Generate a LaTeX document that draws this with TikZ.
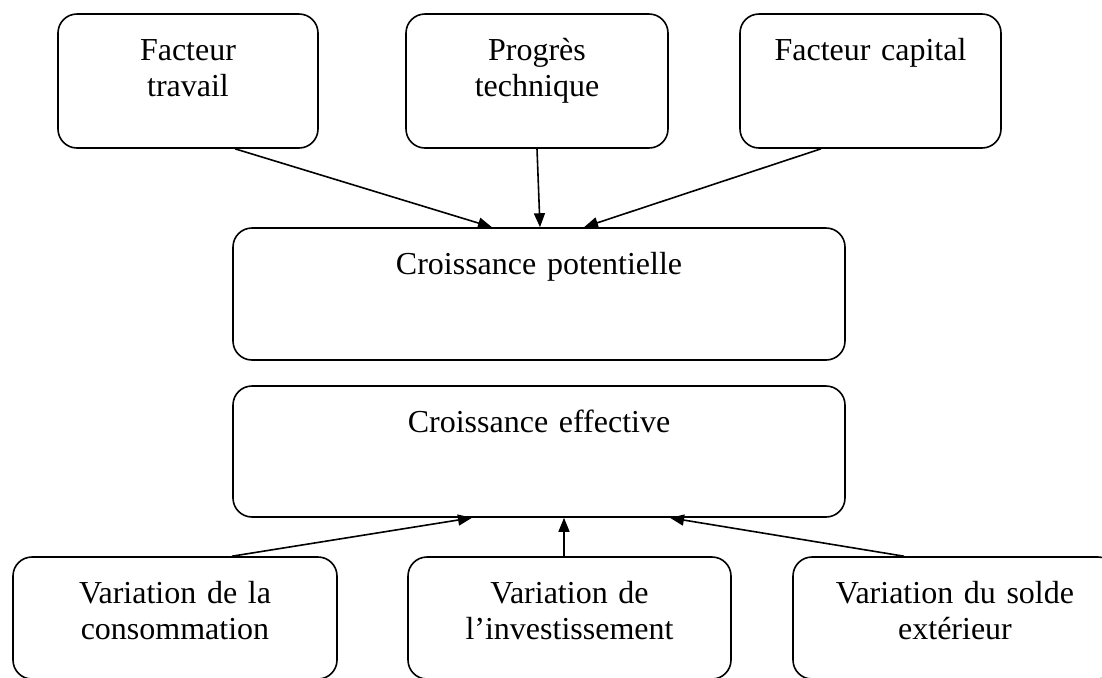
\documentclass[tikz,border=0pt]{standalone}
\usepackage{fontspec}
\setmainfont{Liberation Serif}
\usetikzlibrary{arrows.meta}

\begin{document}
\begin{tikzpicture}[->,>={Triangle[length=7pt,width=5.5pt]},thick,
  node distance=3.5cm,
  box node/.style={draw,rounded corners=9.5pt,align=center,inner sep=0pt,
  text height=23pt,text depth=44pt,text width=130pt,
  font=\fontsize{16}{18.4}\selectfont},
  growth node/.style={box node,text width=306pt},
  demand node/.style={box node,text width=162pt,text depth=38pt}]

  \useasboundingbox (0,0) rectangle (551pt,-338.5pt);

  \node[box node] (T) at (94pt,-40.5pt) {Facteur\\travail};
  \node[box node, text width=131pt, node distance=174.5pt, right of=T] (P) {Progrès\\technique};
  \node[box node, text width=130.5pt, node distance=166.75pt, right of=P] (K) {Facteur capital};
  \node[growth node, text depth=43pt, node distance=106.5pt, below of=P, xshift=1pt] (CP) {Croissance potentielle};
  \node[growth node, text depth=42.5pt, node distance=78.75pt, below of=CP] (CE) {Croissance effective};
  \node[demand node, text width=161.5pt, node distance=83.25pt, below of=CE, xshift=15.25pt] (I) {Variation de\\l’investissement};
  \node[demand node, node distance=197.25pt, left of=I] (C) {Variation de la\\consommation};
  \node[demand node, node distance=192.75pt, right of=I] (X) {Variation du solde\\extérieur};

  \path
    % factors feed the potential growth
    ([xshift=23.5pt]T.south) edge ([xshift=-23.5pt]CP.north)
    (P.south) edge ([xshift=0.5pt]CP.north)
    ([xshift=-24.75pt]K.south) edge ([xshift=22.5pt]CP.north)
    % demand side pushes the effective growth
    ([xshift=28.5pt]C.north) edge ([xshift=-33.5pt]CE.south)
    ([xshift=-2.75pt]I.north) edge ([xshift=12.5pt]CE.south)
    ([xshift=-25.5pt]X.north) edge ([xshift=65.5pt]CE.south);
\end{tikzpicture}
\end{document}
